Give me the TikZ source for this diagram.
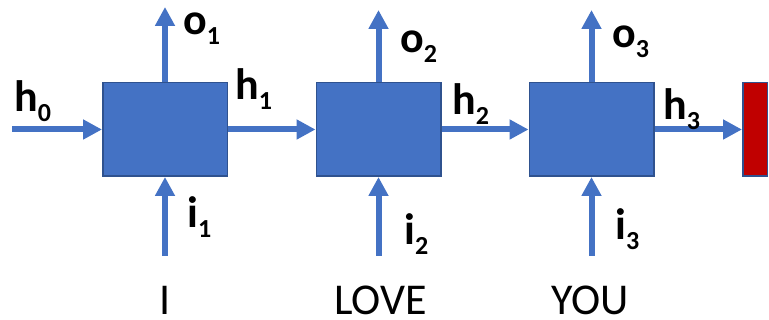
\documentclass[tikz,border=0pt]{standalone}
\usepackage{fontspec}
\setmainfont{Carlito}
\usetikzlibrary{arrows.meta}
\definecolor{cell_blue}{RGB}{68,114,196}
\definecolor{edge_blue}{RGB}{47,82,143}
\definecolor{end_red}{RGB}{192,0,0}
\newcommand\sublbl[2]{\textbf{#1\raisebox{-10pt}{\fontsize{26}{26}\selectfont#2}}}

\begin{document}
\begin{tikzpicture}[x=1pt,y=-1pt]
    \tikzstyle{cell}=[draw=edge_blue, line width=1.5pt, fill=cell_blue, minimum width=124.5pt, minimum height=93.5pt, inner sep=0pt]
    \tikzstyle{endbar}=[style=cell, fill=end_red, minimum width=24.5pt]
    \tikzstyle{flow}=[draw=cell_blue, line width=6pt, -{Triangle[width=19pt,length=19pt]}]
    \tikzstyle{lbl}=[anchor=base west, inner sep=0pt, font=\fontsize{44}{44}\selectfont]
    \tikzstyle{word}=[anchor=base, inner sep=0pt, font=\fontsize{44}{44}\selectfont]

    \useasboundingbox (0,0) rectangle (769,320);

    \node[cell]   (c1) at (165,129.5)   {};
    \node[cell]   (c2) at (378.5,129.5) {};
    \node[cell]   (c3) at (591.5,129.5) {};
    \node[endbar] (e)  at (755,129.5)   {};

    \coordinate (h0) at (12,129.5);
    \coordinate (o1) at (165,7);
    \coordinate (o2) at (378.5,10);
    \coordinate (o3) at (591.5,10);
    \coordinate (i1) at (165,256);
    \coordinate (i2) at (378.5,256);
    \coordinate (i3) at (591.5,256);

    \path
     (h0) edge[flow] (c1)
     (c1) edge[flow] (c2)
     (c2) edge[flow] (c3)
     (c3) edge[flow] (e)
     (c1) edge[flow] (o1)
     (c2) edge[flow] (o2)
     (c3) edge[flow] (o3)
     (i1) edge[flow] (c1)
     (i2) edge[flow] (c2)
     (i3) edge[flow] (c3)
     ;

    \node[lbl] (lh0) at (14,112)  {\sublbl{h}{0}};
    \node[lbl] (lh1) at (235,100) {\sublbl{h}{1}};
    \node[lbl] (lh2) at (452,115) {\sublbl{h}{2}};
    \node[lbl] (lh3) at (663,120) {\sublbl{h}{3}};
    \node[lbl] (lo1) at (183,35)  {\sublbl{o}{1}};
    \node[lbl] (lo2) at (400,53)  {\sublbl{o}{2}};
    \node[lbl] (lo3) at (612,48)  {\sublbl{o}{3}};
    \node[lbl] (li1) at (187,228) {\sublbl{i}{1}};
    \node[lbl] (li2) at (404,245) {\sublbl{i}{2}};
    \node[lbl] (li3) at (615,240) {\sublbl{i}{3}};

    \node[word] (w1) at (165,315)   {I};
    \node[word] (w2) at (380.5,315) {LOVE};
    \node[word] (w3) at (590.5,315) {YOU};
  \end{tikzpicture}
\end{document}
